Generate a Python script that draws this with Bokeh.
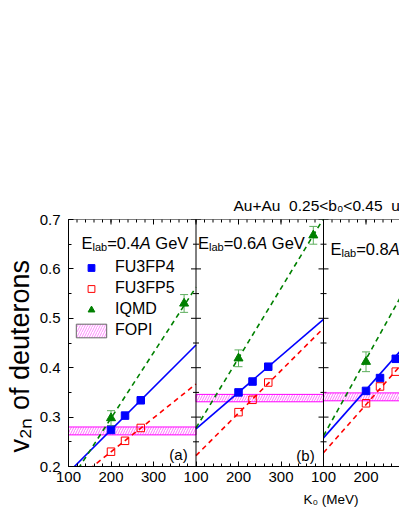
import numpy as np
from bokeh.plotting import figure
from bokeh.models import (Range1d, FixedTicker, Span, Label, Legend, LegendItem,
                          ColumnDataSource, Whisker, TeeHead, Title)
from bokeh.embed import file_html
from bokeh.resources import INLINE
from bokeh.core.properties import value

# ---------------- data ----------------
energies = ["0.4", "0.6", "0.8"]
panel_tags = ["(a)", "(b)", "(c)"]
k0_model = [200, 233, 270]
fu3fp4 = [[0.274, 0.303, 0.334], [0.350, 0.372, 0.402], [0.353, 0.379, 0.418]]
fu3fp5 = [[0.230, 0.252, 0.278], [0.310, 0.335, 0.370], [0.328, 0.362, 0.392]]
iqmd_k0 = [[200, 372], [200, 376], [200]]
iqmd_v2 = [[0.298, 0.530], [0.419, 0.668], [0.412]]
iqmd_err = [[0.015, 0.018], [0.017, 0.018], [0.020]]
fopi_lo = [0.264, 0.331, 0.333]
fopi_hi = [0.280, 0.346, 0.349]
fit_k0 = [100, 400]
fit4 = [[0.188, 0.446], [0.276, 0.498], [0.258, 0.550]]
fit5 = [[0.161, 0.367], [0.222, 0.480], [0.228, 0.520]]
fitI = [[0.165, 0.563], [0.278, 0.702], [0.262, 0.727]]
y_ticks = [0.2, 0.3, 0.4, 0.5, 0.6, 0.7]
x_tick_labels = ["100", "200", "300"]
title_text = "Au+Au\u00a0 0.25<b\u2080<0.45\u00a0 u\u209c\u2080>0.4"
x_title = "K\u2080 (MeV)"
y_title = "v\u2082\u2099 of deuterons"

# ---------------- layout helpers ----------------
SPAN = 300.0          # K0 range of one panel (100..400 MeV)
K0_START = 100.0
FONT = "Liberation Sans"
W, H = 399, 516
BL, BT, BB = 68, 219, 50
PANEL_PX = 127.5
frame_w = W - BL
frame_h = H - BT - BB
x_end = frame_w * SPAN / PANEL_PX
FRAME_BOTTOM = BT + frame_h

def ux(k, k0):
    return k * SPAN + (np.asarray(k0, dtype=float) - K0_START)

# canvas pixel -> data (annotation placement inside the frame)
def px2u(px):
    return (px - BL) * SPAN / PANEL_PX

def py2v(py):
    return 0.2 + (FRAME_BOTTOM - py) * 0.5 / frame_h

BLUE, RED, GREEN, EGREEN, MAG = "#0000FF", "#FF0000", "#008000", "#5DAE5D", "#FF00FF"

p = figure(width=W, height=H, output_backend="svg", toolbar_location=None,
           x_range=Range1d(0, x_end), y_range=Range1d(0.2, 0.7),
           min_border_left=BL, min_border_right=0, min_border_top=BT, min_border_bottom=BB)
p.outline_line_color = None
p.xgrid.visible = False
p.ygrid.visible = False
p.background_fill_color = "white"
p.border_fill_color = "white"

# title above (cut at the right edge like the original)
p.title.text = title_text
p.title.align = "left"
p.title.offset = 233 - BL
p.title.text_font = FONT
p.title.text_font_size = "15.5px"
p.title.text_font_style = "normal"
p.title.text_color = "black"
p.title.standoff = 8
p.title.vertical_align = "top"
p.title.text_line_height = 1.4

p.add_layout(Title(text=y_title, align="left", offset=14, text_font=FONT,
                   text_font_size="27px", text_font_style="normal", text_color="black",
                   standoff=4), "left")
p.add_layout(Title(text=x_title, align="left", offset=303 - BL, text_font=FONT,
                   text_font_size="13.5px", text_font_style="normal", text_color="black",
                   standoff=11, vertical_align="bottom", text_line_height=1.8), "below")

xt = [i * 100 for i in range(8)]
xminor = [i * 20 for i in range(40)]
y_minor = [round(0.2 + 0.05 * i, 2) for i in range(11)]

xa = p.below[0]
ya = p.left[0]
xa.ticker = FixedTicker(ticks=xt, minor_ticks=xminor)
ya.ticker = FixedTicker(ticks=y_ticks, minor_ticks=y_minor)
for ax in (xa, ya):
    ax.major_tick_in = 5
    ax.major_tick_out = 0
    ax.minor_tick_in = 3
    ax.minor_tick_out = 0
    ax.axis_line_color = "black"
    ax.major_tick_line_color = "black"
    ax.minor_tick_line_color = "black"
    ax.major_label_text_font = FONT
    ax.major_label_text_color = "black"
    ax.major_label_text_font_size = "15px"
xa.major_label_overrides = {t: x_tick_labels[(t // 100) % 3] for t in xt}
xa.major_label_standoff = 5
ya.major_label_overrides = {t: f"{t:.1f}" for t in y_ticks}
ya.major_label_standoff = 8

# top edge: line with inward ticks
p.add_layout(Span(location=0.7, dimension="width", line_color="black", line_width=1))
p.scatter(x=xt, y=[0.7] * len(xt), marker="dash", angle=np.pi / 2, size=10,
          line_color="black", line_width=1)
p.scatter(x=xminor, y=[0.7] * len(xminor), marker="dash", angle=np.pi / 2, size=6,
          line_color="black", line_width=1)

# panel boundaries with ticks on both sides
y_minor_only = [v for v in y_minor if v not in y_ticks]
for loc in (SPAN, 2 * SPAN):
    p.add_layout(Span(location=loc, dimension="height", line_color="black", line_width=1))
    p.scatter(x=[loc] * len(y_ticks), y=y_ticks, marker="dash", size=10,
              line_color="black", line_width=1)
    p.scatter(x=[loc] * len(y_minor_only), y=y_minor_only, marker="dash", size=6,
              line_color="black", line_width=1)

r4 = r5 = rI = None
for k in range(3):
    p.quad(left=[k * SPAN], right=[(k + 1) * SPAN], bottom=[fopi_lo[k]], top=[fopi_hi[k]],
           fill_color=None, line_color=MAG, line_width=1, hatch_pattern="/",
           hatch_color=MAG, hatch_alpha=0.55, hatch_scale=5, hatch_weight=1)
    p.line(ux(k, fit_k0), fit4[k], line_color=BLUE, line_width=1.6)
    p.line(ux(k, fit_k0), fit5[k], line_color=RED, line_width=1.6, line_dash="5 4")
    p.line(ux(k, fit_k0), fitI[k], line_color=GREEN, line_width=1.6, line_dash="5 4")
    r4 = p.scatter(ux(k, k0_model), fu3fp4[k], marker="square", size=7.5,
                   fill_color=BLUE, line_color=BLUE)
    r5 = p.scatter(ux(k, k0_model), fu3fp5[k], marker="square", size=7.5,
                   fill_color=None, line_color=RED, line_width=1)
    e = np.asarray(iqmd_err[k]); v = np.asarray(iqmd_v2[k])
    src = ColumnDataSource(dict(x=ux(k, iqmd_k0[k]), lo=v - e, hi=v + e))
    p.add_layout(Whisker(source=src, base="x", lower="lo", upper="hi", line_color=EGREEN,
                         line_width=1,
                         lower_head=TeeHead(size=8, line_color=EGREEN, line_width=1),
                         upper_head=TeeHead(size=8, line_color=EGREEN, line_width=1)))
    rI = p.scatter(ux(k, iqmd_k0[k]), iqmd_v2[k], marker="triangle", size=9,
                   fill_color=GREEN, line_color=GREEN)

# panel tags
p.text(x=[px2u(178), px2u(305)], y=[py2v(454), py2v(455)], text=panel_tags[:2],
       text_font=value(FONT), text_font_size="15px", text_align="center",
       text_baseline="middle", text_color="black")

# legend (FOPI swatch: grey-framed hatched box)
rF = p.quad(left=[0], right=[SPAN], bottom=[fopi_lo[0]], top=[fopi_hi[0]], fill_color=None,
            line_color="#666666", line_width=1, hatch_pattern="/", hatch_color=MAG,
            hatch_alpha=0.45, hatch_scale=5, hatch_weight=1)
rF.visible = False
leg = Legend(items=[LegendItem(label="FU3FP4", renderers=[r4]),
                    LegendItem(label="FU3FP5", renderers=[r5]),
                    LegendItem(label="IQMD", renderers=[rI]),
                    LegendItem(label="FOPI", renderers=[rF])],
             location=(4, 127), border_line_color=None, background_fill_alpha=0,
             padding=0, margin=0, spacing=3, glyph_width=38, glyph_height=17,
             label_height=17, label_standoff=5, label_text_font=FONT,
             label_text_font_size="16px", label_text_color="black")
p.add_layout(leg)

# E_lab labels (inside the frame)
AW = {"E": .667, "l": .222, "a": .556, "b": .556, "=": .584, ".": .278, "A": .667, " ": .278,
      "G": .778, "e": .556, "V": .667}
def tw(s, fs):
    return sum(AW.get(c, .556) for c in s) * fs

def runs(x0, yb, parts):
    pos = 0.0
    for txt, fs, drop, style in parts:
        lead = len(txt) - len(txt.lstrip(" "))
        pos += tw(" " * lead, fs)
        txt = txt.lstrip(" ")
        p.add_layout(Label(x=px2u(x0 + pos), y=py2v(yb + drop), text=txt, text_font=FONT,
                           text_font_size=f"{fs}px", text_font_style=style,
                           text_align="left", text_baseline="alphabetic",
                           text_color="black"))
        pos += tw(txt, fs)

FS = 16.5
for k, (x0, yb) in enumerate([(81, 242), (197.5, 242), (330, 248)]):
    runs(x0, yb, [("E", FS, 0, "normal"), ("lab", 11, 4, "normal"),
                  (f"={energies[k]}", FS, 0, "normal"), ("A", FS, 0, "italic"),
                  (" GeV", FS, 0, "normal")])

open("out.html", "w").write(file_html(p, INLINE))
